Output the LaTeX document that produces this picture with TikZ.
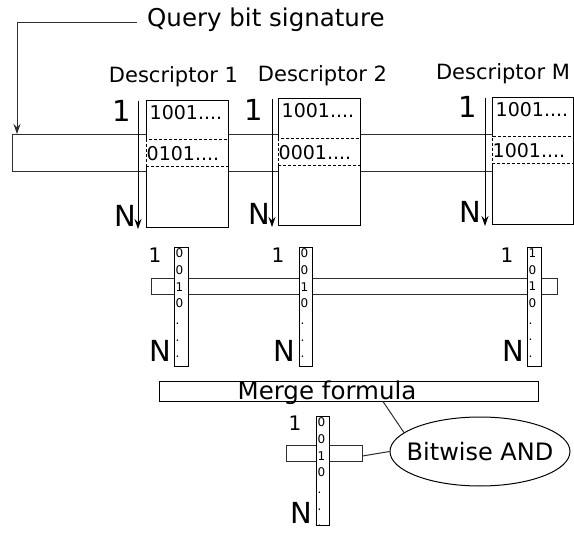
\documentclass[tikz,border=0pt]{standalone}
\usepackage{fontspec}
\setmainfont{DejaVu Sans}
\usetikzlibrary{arrows.meta,calc,positioning,shapes.geometric}
\definecolor{EdgeGrey}{HTML}{2E2E2E}

\begin{document}
\begin{tikzpicture}[x=1pt,y=-1pt,
      band/.style={draw=EdgeGrey,line width=1pt,fill=white,inner sep=0pt},
      descbox/.style={draw=black,line width=1pt,fill=white,inner sep=0pt,
      minimum width=82pt,minimum height=126pt},
      dashrow/.style={draw=black,line width=1pt,dash pattern=on 3pt off 2pt,fill=white,
      inner sep=0pt,minimum width=82pt,minimum height=27pt},
      strip/.style={draw=black,line width=1pt,fill=white,inner sep=0pt,
      minimum width=14pt,minimum height=119pt},
      bits/.style={inner sep=0pt,font=\fontsize{19}{22}\selectfont},
      digits/.style={inner sep=0pt,align=left,font=\fontsize{12}{16.7}\selectfont},
      title/.style={inner sep=0pt,font=\fontsize{21}{24}\selectfont},
      big/.style={inner sep=0pt,font=\fontsize{29}{32}\selectfont},
      small/.style={inner sep=0pt,font=\fontsize{20}{22}\selectfont},
      axis/.style={-{Stealth[length=10pt,width=7pt]},line width=1pt,black},
      link/.style={line width=1pt,EdgeGrey}]
      \useasboundingbox (0,0) rectangle (574,535);
      % query signature and its band
      \node[anchor=west,inner sep=0pt,font=\fontsize{24.5}{28}\selectfont] (query) at (147,20) {Query bit signature};
      \node[band,minimum width=480pt,minimum height=37pt] (sigband) at (252,153.5) {};
      \coordinate (qin) at (17,135);
      \draw[link,-{Stealth[length=10pt,width=7pt]},shorten >=1pt] ([xshift=-10pt,yshift=-3pt]query.west) -| (qin);
      % descriptors
      \node[descbox] (d1) at (187,164) {};
      \node[descbox] (d2) at (319,162) {};
      \node[descbox,minimum width=81pt] (dm) at (532.5,161) {};
      \node[dashrow,below=39pt of d1.north] (r1) {};
      \node[dashrow,below=40pt of d2.north] (r2) {};
      \node[dashrow,minimum width=81pt,below=39pt of dm.north] (rm) {};
      \node[bits,anchor=west] (t1) at ($(d1.north west)+(4,12)$) {1001....};
      \node[bits,anchor=west] (t2) at ($(d2.north west)+(4,12)$) {1001....};
      \node[bits,anchor=west] (tm) at ($(dm.north west)+(4,12)$) {1001....};
      \node[bits,anchor=west] (b1) at ($(r1.west)+(1,0)$) {0101....};
      \node[bits,anchor=west] (b2) at ($(r2.west)+(1,0)$) {0001....};
      \node[bits,anchor=west] (bm) at ($(rm.west)+(1,0)$) {1001....};
      \node[title,anchor=base] (n1) at (173.5,83) {Descriptor 1};
      \node[title,anchor=base] (n2) at (322.5,82) {Descriptor 2};
      \node[title,anchor=base] (nm) at (503,80) {Descriptor M};
      % 1..N axes
      \coordinate (a1) at (138,101); \coordinate (z1) at (138,229);
      \coordinate (a2) at (272,99);  \coordinate (z2) at (272,227);
      \coordinate (am) at (485,98);  \coordinate (zm) at (485,226);
      \draw[axis] (a1) -- (z1);
      \draw[axis] (a2) -- (z2);
      \draw[axis] (am) -- (zm);
      \node[big] (o1) at (122,111) {1};
      \node[big] (o2) at (254,110) {1};
      \node[big] (om) at (468,107) {1};
      \node[big] (e1) at (125,216) {N};
      \node[big] (e2) at (259,214) {N};
      \node[big] (em) at (470,212) {N};
      % columns of the descriptors
      \node[band,minimum width=406pt,minimum height=16pt] (colband) at (354,286) {};
      \node[strip] (s1) at (181,306.5) {};
      \node[strip,minimum width=13pt] (s2) at (305.5,306.5) {};
      \node[strip] (s3) at (534,306.5) {};
      \node[digits,anchor=north west] at ($(s1.north west)+(2,2)$) {0\\0\\1\\0\\.\\.\\.};
      \node[digits,anchor=north west] at ($(s2.north west)+(2,2)$) {0\\0\\1\\0\\.\\.\\.};
      \node[digits,anchor=north west] at ($(s3.north west)+(2,2)$) {1\\0\\1\\0\\.\\.\\.};
      \node[small] (c1) at (155,255) {1};
      \node[small] (c2) at (278,255) {1};
      \node[small] (c3) at (507,255) {1};
      \node[big] (f1) at (160,351) {N};
      \node[big] (f2) at (284,351) {N};
      \node[big] (f3) at (513,351) {N};
      % merge
      \node[band,draw=black,minimum width=379pt,minimum height=20pt] (merge) at (348.5,391) {};
      \node[anchor=base,inner sep=0pt,font=\fontsize{24.5}{28}\selectfont] (mtext) at ([xshift=-21.5pt,yshift=2pt]merge.south) {Merge formula};
      \node[band,minimum width=76pt,minimum height=16pt] (resband) at (324,453) {};
      \node[strip,minimum width=13pt,minimum height=109pt] (res) at (322.5,470.5) {};
      \node[digits,anchor=north west] at ($(res.north west)+(2,2)$) {0\\0\\1\\0\\.\\.\\.};
      \node[small] (c4) at (295,423) {1};
      \node[big] (f4) at (301,513) {N};
      \node[ellipse,draw=black,line width=1pt,inner sep=0pt,minimum width=180pt,
      minimum height=69pt] (and) at (480,451.5) {};
      \node[inner sep=0pt,font=\fontsize{24}{28}\selectfont] (andtext) at (and.center) {Bitwise AND};
      \draw[link] ([xshift=34.5pt]merge.south) -- (and.166);
      \draw[link] ([yshift=-3pt]resband.east) -- (and.west);
    \end{tikzpicture}
\end{document}
